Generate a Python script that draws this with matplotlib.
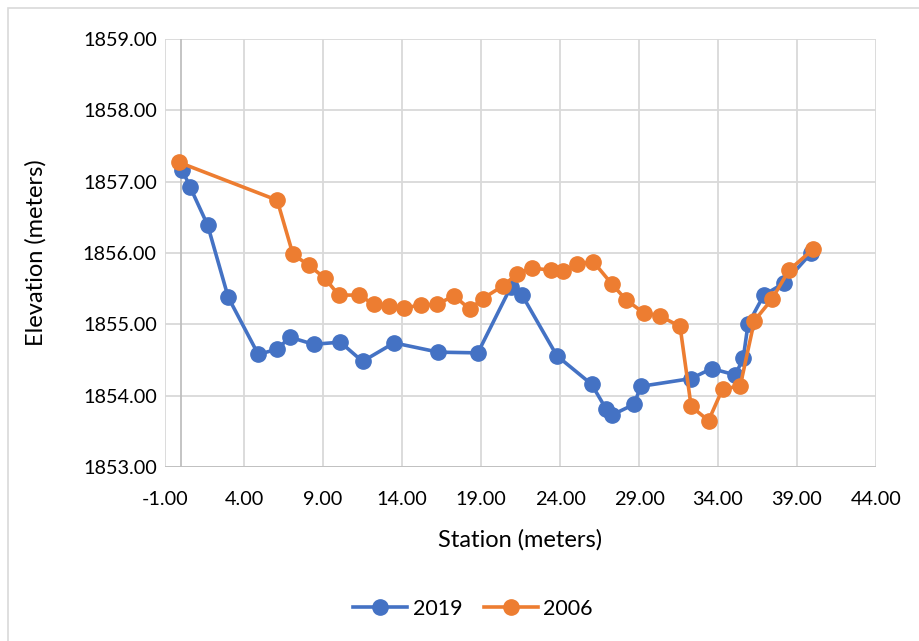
import matplotlib.pyplot as plt
from matplotlib.patches import Rectangle
from matplotlib.ticker import FormatStrFormatter

# survey points: station (m) and elevation (m)
station_2019 = [0.1, 0.6, 1.7, 3.0, 4.9, 6.1, 6.9, 8.4, 10.1, 11.5, 13.5, 16.3, 18.8,
                20.9, 21.6, 23.8, 26.0, 26.9, 27.3, 28.7, 29.1, 32.3, 33.6, 35.1,
                35.6, 35.9, 36.9, 38.2, 39.9]
elev_2019 = [1857.16, 1856.92, 1856.39, 1855.38, 1854.58, 1854.65, 1854.82, 1854.72,
             1854.75, 1854.48, 1854.74, 1854.61, 1854.60, 1855.53, 1855.41, 1854.56,
             1854.16, 1853.82, 1853.73, 1853.88, 1854.13, 1854.24, 1854.38, 1854.29,
             1854.53, 1855.00, 1855.41, 1855.58, 1856.00]

station_2006 = [-0.1, 6.1, 7.1, 8.1, 9.1, 10.0, 11.3, 12.2, 13.2, 14.1, 15.2, 16.2,
                17.3, 18.3, 19.1, 20.4, 21.3, 22.2, 23.4, 24.2, 25.1, 26.1, 27.3,
                28.2, 29.3, 30.3, 31.6, 32.3, 33.4, 34.3, 35.4, 36.3, 37.4, 38.5, 40.0]
elev_2006 = [1857.27, 1856.74, 1855.98, 1855.83, 1855.65, 1855.41, 1855.41, 1855.28,
             1855.26, 1855.23, 1855.27, 1855.28, 1855.40, 1855.21, 1855.36, 1855.54,
             1855.71, 1855.79, 1855.76, 1855.75, 1855.84, 1855.88, 1855.56, 1855.34,
             1855.16, 1855.12, 1854.97, 1853.85, 1853.65, 1854.10, 1854.13, 1855.05,
             1855.35, 1855.76, 1856.05]

x_ticks = [-1, 4, 9, 14, 19, 24, 29, 34, 39, 44]
y_ticks = [1853, 1854, 1855, 1856, 1857, 1858, 1859]

plt.rcParams['font.family'] = ['Lato', 'DejaVu Sans']

fig = plt.figure(figsize=(9.2, 6.41), dpi=100)
ax = fig.add_axes([165 / 920, 1 - 467 / 641, (876 - 165) / 920, (467 - 39) / 641])

# chart area frame
fig.patches.append(Rectangle((8 / 920, -0.01), 1.0, 1 - 8 / 641 + 0.01,
                             transform=fig.transFigure, fill=False,
                             edgecolor='#d9d9d9', linewidth=1.2))

ax.plot(station_2019, elev_2019, '-o', color='#4472C4', lw=2.6, ms=11,
        label='2019', zorder=3)
ax.plot(station_2006, elev_2006, '-o', color='#ED7D31', lw=2.6, ms=11,
        label='2006', zorder=4)

ax.set_xlim(-1, 44)
ax.set_ylim(1853, 1859)
ax.set_xticks(x_ticks)
ax.set_yticks(y_ticks)
ax.xaxis.set_major_formatter(FormatStrFormatter('%.2f'))
ax.yaxis.set_major_formatter(FormatStrFormatter('%.2f'))
ax.tick_params(length=0, labelsize=14.3, colors='#000000')
ax.tick_params(axis='x', pad=17)
ax.tick_params(axis='y', pad=6)
ax.grid(True, color='#d9d9d9', lw=1.3)
ax.set_axisbelow(True)
for s in ax.spines.values():
    s.set_visible(False)
ax.axvline(0, color='#bfbfbf', lw=1.3, zorder=1)
ax.axhline(1853, color='#bfbfbf', lw=1.3, zorder=1)

ax.set_xlabel('Station (meters)', fontsize=17)
ax.set_ylabel('Elevation (meters)', fontsize=17)
ax.xaxis.set_label_coords(0.5, (467 - 540) / 428)
ax.yaxis.set_label_coords((36 - 165) / 711, 1 - (253 - 39) / 428)
ax.xaxis.label.set_va('center')
ax.yaxis.label.set_va('center')

fig.legend(loc='center', bbox_to_anchor=(473 / 920, 1 - 609 / 641), ncol=2,
           frameon=False, fontsize=15.5, handlelength=2.5, columnspacing=1.0,
           handletextpad=0.25)

fig.savefig('out.png', dpi=100)
